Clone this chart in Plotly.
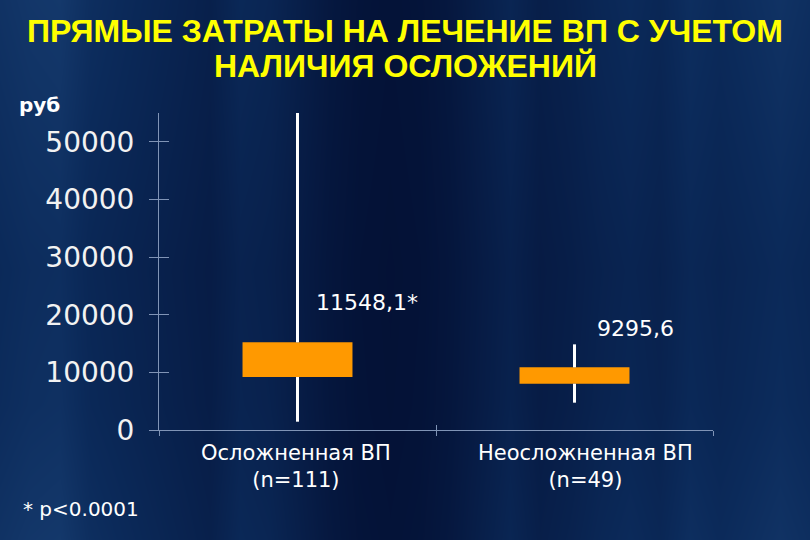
import plotly.graph_objects as go

# ---- data ----
categories = ["Осложненная ВП", "Неосложненная ВП"]
sample_sizes = ["(n=111)", "(n=49)"]
q1 = [9190, 8030]
q3 = [15210, 10870]
whisker_low = [1440, 4740]
whisker_high = [55000, 14860]
value_labels = ["11548,1*", "9295,6"]
y_ticks = [0, 10000, 20000, 30000, 40000, 50000]
y_tick_text = ["0", "10000", "20000", "30000", "40000", "50000"]
title_lines = ["ПРЯМЫЕ ЗАТРАТЫ НА ЛЕЧЕНИЕ ВП С УЧЕТОМ", "НАЛИЧИЯ ОСЛОЖЕНИЙ"]
unit_label = "руб"
footnote = "* p<0.0001"

# ---- decorative background (streaky navy slide backdrop) ----
bg_x = list(range(0, 811, 30))
bg_profile = [0.55, 0.6, 0.62, 0.5, 0.45, 0.4, 0.35, 0.3, 0.42, 0.38, 0.28, 0.18, 0.12, 0.1,
              0.12, 0.18, 0.28, 0.38, 0.28, 0.33, 0.4, 0.45, 0.4, 0.5, 0.45, 0.5, 0.55, 0.5]
bg_y = [0, 135, 270, 405, 540]
bg_rows = [1.0, 0.85, 0.8, 0.9, 1.0]
bg_z = [[min(1, v * r) for v in bg_profile] for r in bg_rows]

AXIS = "#8094b6"
ORANGE = "#ff9900"
W, H = 810, 540


def fy(py):
    """pixel row measured from top -> paper fraction"""
    return 1 - py / H


fig = go.Figure()
fig.add_trace(go.Heatmap(x=bg_x, y=bg_y, z=bg_z, zsmooth="best", showscale=False,
                         hoverinfo="skip", zmin=0, zmax=1,
                         colorscale=[[0, "#020c2e"], [0.45, "#0b2a5a"], [1, "#275790"]],
                         xaxis="x", yaxis="y"))

xs = list(range(len(categories)))
wx, wy = [], []
for i in xs:
    wx += [i, i, None, i, i, None]
    wy += [whisker_low[i], q1[i], None, q3[i], whisker_high[i], None]
fig.add_trace(go.Scatter(x=wx, y=wy, mode="lines", line=dict(color="white", width=3),
                         hoverinfo="skip", xaxis="x2", yaxis="y2"))
fig.add_trace(go.Bar(x=xs, y=[b - a for a, b in zip(q1, q3)], base=q1, width=0.397,
                     marker=dict(color=ORANGE, line=dict(width=0)),
                     xaxis="x2", yaxis="y2"))
# invisible helpers so overlay axes are drawn
fig.add_trace(go.Scatter(x=[0], y=[0], mode="markers", marker=dict(opacity=0),
                         hoverinfo="skip", xaxis="x3", yaxis="y2"))
fig.add_trace(go.Scatter(x=[0], y=[0], mode="markers", marker=dict(opacity=0),
                         hoverinfo="skip", xaxis="x2", yaxis="y3"))

dom_x = [159 / W, 713 / W]
dom_y = [fy(430), fy(113)]

fig.update_layout(
    width=W, height=H, autosize=False,
    margin=dict(l=0, r=0, t=0, b=0, pad=0, autoexpand=False),
    paper_bgcolor="#0d2c5c", plot_bgcolor="rgba(0,0,0,0)", showlegend=False,
    xaxis=dict(domain=[0, 1], range=[0, 810], visible=False, fixedrange=True, automargin=False),
    yaxis=dict(domain=[0, 1], range=[0, 540], visible=False, fixedrange=True, automargin=False),
    xaxis2=dict(domain=dom_x, anchor="y2", range=[-0.5, 1.5], tickvals=[-0.5, 0.5, 1.5],
                ticks="outside", ticklen=5, tickcolor=AXIS, tickwidth=1, automargin=False,
                showticklabels=False, showline=True, linecolor=AXIS, linewidth=1,
                showgrid=False, zeroline=False),
    xaxis3=dict(overlaying="x2", anchor="y2", range=[-0.5, 1.5], tickvals=[0.5, 1.5],
                ticks="inside", ticklen=5, tickcolor=AXIS, tickwidth=1, automargin=False,
                showticklabels=False, showline=False, showgrid=False, zeroline=False),
    yaxis2=dict(domain=dom_y, anchor="x2", range=[0, 55000], tickvals=y_ticks,
                ticktext=y_tick_text, automargin=False,
                ticks="outside", ticklen=9, tickcolor=AXIS, tickwidth=1,
                tickfont=dict(family="DejaVu Sans", size=28, color="#f2f2f2"),
                ticklabelstandoff=9,
                showline=True, linecolor=AXIS, linewidth=1, showgrid=False, zeroline=False),
    yaxis3=dict(overlaying="y2", anchor="x2", range=[0, 55000], tickvals=y_ticks,
                ticks="inside", ticklen=10, tickcolor=AXIS, tickwidth=1, automargin=False,
                showticklabels=False, showline=False, showgrid=False, zeroline=False),
)

# title (two lines)
for line, yc in zip(title_lines, [31, 66]):
    fig.add_annotation(text=f"<b>{line}</b>", x=0.5, xref="paper", y=fy(yc), yref="paper",
                       xanchor="center", yanchor="middle", showarrow=False,
                       font=dict(family="Liberation Sans", size=32, color="#ffff00"))

fig.add_annotation(text=f"<b>{unit_label}</b>", x=17 / W, xref="paper", y=fy(105),
                   yref="paper", xanchor="left", yanchor="middle", showarrow=False,
                   font=dict(family="DejaVu Sans", size=20, color="white"))

fig.add_annotation(text=footnote, x=21 / W, xref="paper", y=fy(509), yref="paper",
                   xanchor="left", yanchor="middle", showarrow=False,
                   font=dict(family="DejaVu Sans", size=20, color="white"))

# category labels
for i, (c, n, dx) in enumerate(zip(categories, sample_sizes, [-2, 11])):
    fig.add_annotation(text=f"{c}<br>{n}", x=i, xref="x2", y=fy(466), yref="paper",
                       xanchor="center", yanchor="middle", xshift=dx, showarrow=False,
                       font=dict(family="DejaVu Sans", size=21, color="white"))

# value labels
for i, (t, yc, dx) in enumerate(zip(value_labels, [302, 328], [16, 20])):
    fig.add_annotation(text=t, x=i, xref="x2", y=fy(yc), yref="paper",
                       xanchor="left", yanchor="middle", xshift=dx, showarrow=False,
                       font=dict(family="DejaVu Sans", size=22, color="white"))

fig.write_html(
    "out.html",
    config={"responsive": False, "displayModeBar": False},
    post_script=("document.body.style.margin='0';"
                 "document.body.style.background='#0d2c5c';"),
)
